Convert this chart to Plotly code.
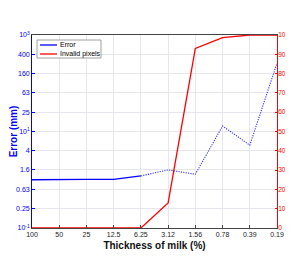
import plotly.graph_objects as go

categories = ["100", "50", "25", "12.5", "6.25", "3.12", "1.56", "0.78", "0.39", "0.19"]
error_mm = [1.0, 1.02, 1.02, 1.02, 1.2, 1.6, 1.3, 13, 5.2, 260]
invalid_pct = [0, 0, 0, 0, 0, 13, 93, 98.6, 100, 100]

left_tickvals = [0.1, 0.25, 0.63, 1.6, 4, 10, 25, 63, 160, 400, 1000]
left_ticktext = ["10<sup>-1</sup>", "0.25", "0.63", "1.6", "4", "10<sup>1</sup>", "25", "63", "160", "400", "10<sup>3</sup>"]
right_tickvals = [0, 10, 20, 30, 40, 50, 60, 70, 80, 90, 100]
legend_names = ["Error", "Invalid pixels"]

BLUE = "#0000ff"
RED = "#ff0000"
idx = list(range(len(categories)))

fig = go.Figure()
fig.add_trace(go.Scatter(x=idx[:5], y=error_mm[:5], mode="lines", name=legend_names[0],
                         line=dict(color=BLUE, width=1.3), yaxis="y"))
fig.add_trace(go.Scatter(x=idx[4:], y=error_mm[4:], mode="lines", name=legend_names[0],
                         line=dict(color="#3333ff", width=1.1, dash="1.2px,1.2px"), yaxis="y"))
fig.add_trace(go.Scatter(x=idx, y=invalid_pct, mode="lines", name=legend_names[1],
                         line=dict(color=RED, width=1.3), yaxis="y2"))

# the page body has an 8px margin, so the figure is shifted by 8px
OFF = 8
W, H = 293 - OFF, 263 - 2 * OFF
# plot area on screen: x 32..277, y 35..228
SX0, SX1, SY0, SY1 = 32, 277, 35, 228
L, T = SX0 - OFF, SY0 - OFF
R, B = W - (SX1 - OFF), H - (SY1 - OFF)
pw, ph = SX1 - SX0, SY1 - SY0

def px(x):
    return (x - SX0) / pw

def py(y):
    return (SY1 - y) / ph

shapes = [
    dict(type="rect", xref="paper", yref="paper", x0=px(37), x1=px(101), y0=py(58), y1=py(40),
         fillcolor="white", line=dict(color="#888888", width=0.8), layer="above"),
    dict(type="line", xref="paper", yref="paper", x0=px(40), x1=px(57), y0=py(45), y1=py(45),
         line=dict(color=BLUE, width=1.3), layer="above"),
    dict(type="line", xref="paper", yref="paper", x0=px(40), x1=px(57), y0=py(54), y1=py(54),
         line=dict(color=RED, width=1.3), layer="above"),
]
annotations = [
    dict(text=legend_names[0], xref="paper", yref="paper", x=px(57.5), y=py(45), xanchor="left",
         yanchor="middle", showarrow=False, font=dict(size=7, color="black")),
    dict(text=legend_names[1], xref="paper", yref="paper", x=px(57.5), y=py(54), xanchor="left",
         yanchor="middle", showarrow=False, font=dict(size=7, color="black")),
]

font = "Liberation Sans"
fig.update_layout(
    width=W, height=H,
    margin=dict(l=L, r=R, t=T, b=B),
    paper_bgcolor="white", plot_bgcolor="white",
    font=dict(family=font, size=7, color="black"),
    showlegend=False,
    shapes=shapes, annotations=annotations,
    xaxis=dict(
        tickmode="array", tickvals=idx, ticktext=categories,
        range=[0, 9], showgrid=True, gridcolor="#e6e6ee", gridwidth=0.8,
        zeroline=False, showline=True, linecolor="#444444", linewidth=0.8,
        mirror=True, ticks="inside", ticklen=3, tickcolor="#444444",
        tickfont=dict(size=7, color="#222222"), automargin=False,
        title=dict(text="<b>Thickness of milk (%)</b>", font=dict(size=10, color="#111111"), standoff=4),
    ),
    yaxis=dict(
        type="log", range=[-1, 3],
        tickmode="array", tickvals=left_tickvals, ticktext=left_ticktext,
        showgrid=True, gridcolor="#e6e6ee", gridwidth=0.8, zeroline=False,
        showline=True, linecolor=BLUE, linewidth=0.8,
        ticks="inside", ticklen=3, tickcolor=BLUE, automargin=False,
        tickfont=dict(size=7, color=BLUE),
        title=dict(text="<b>Error (mm)</b>", font=dict(size=10, color=BLUE), standoff=0),
    ),
    yaxis2=dict(
        overlaying="y", side="right", range=[0, 100],
        tickmode="array", tickvals=right_tickvals,
        showgrid=False, zeroline=False, automargin=False,
        showline=True, linecolor=RED, linewidth=0.8,
        ticks="inside", ticklen=2, tickcolor=RED,
        ticklabelstandoff=-1,
        tickfont=dict(size=6.5, color=RED),
    ),
)

fig.write_html("out.html")
